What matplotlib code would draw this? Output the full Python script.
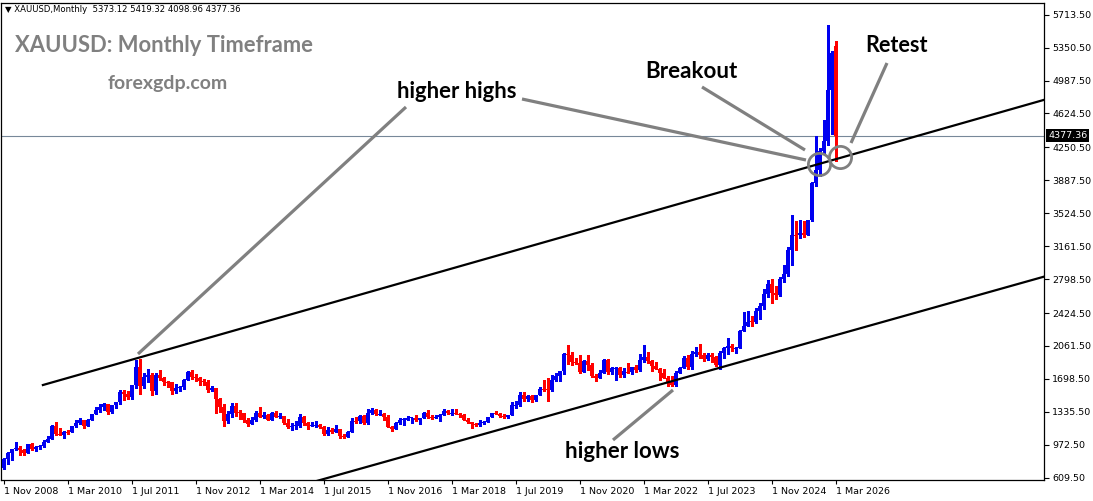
import matplotlib
matplotlib.use("Agg")
import matplotlib.pyplot as plt
import matplotlib.transforms as mtrans
import numpy as np

W, H, DPI = 1093, 501, 100

# ---------------- data (monthly XAUUSD, Nov 2008 .. Mar 2026) ----------------
open_ = [
    718, 814,
    882, 927, 942, 916, 883, 979, 927, 953, 955, 1001, 1040, 1182,
    1096, 1081, 1118, 1113, 1180, 1213, 1244, 1181, 1247, 1307, 1357, 1386,
    1421, 1333, 1409, 1439, 1556, 1536, 1500, 1628, 1826, 1620, 1714, 1746,
    1564, 1738, 1711, 1668, 1664, 1560, 1598, 1614, 1690, 1772, 1719, 1712,
    1675, 1663, 1579, 1597, 1476, 1393, 1234, 1313, 1396, 1327, 1323, 1250,
    1202, 1240, 1326, 1284, 1296, 1250, 1327, 1282, 1287, 1210, 1171, 1183,
    1184, 1283, 1213, 1183, 1183, 1190, 1172, 1095, 1133, 1115, 1142, 1065,
    1061, 1118, 1238, 1233, 1293, 1215, 1322, 1351, 1309, 1316, 1276, 1173,
    1151, 1211, 1249, 1249, 1268, 1268, 1242, 1269, 1322, 1280, 1270, 1275,
    1303, 1345, 1318, 1325, 1315, 1298, 1250, 1224, 1200, 1192, 1215, 1222,
    1282, 1321, 1313, 1292, 1284, 1305, 1409, 1413, 1520, 1472, 1513, 1464,
    1517, 1589, 1585, 1577, 1686, 1730, 1781, 1975, 1967, 1886, 1879, 1776,
    1898, 1848, 1734, 1708, 1769, 1906, 1770, 1814, 1814, 1743, 1783, 1774,
    1829, 1796, 1909, 1937, 1897, 1837, 1807, 1766, 1711, 1660, 1633, 1768,
    1824, 1928, 1826, 1969, 1990, 1963, 1919, 1965, 1940, 1849, 1983, 2036,
    2063, 2039, 2044, 2230, 2286, 2327, 2326, 2447, 2503, 2634, 2744, 2650,
    2624, 2798, 2857, 3124, 3289, 3280, 3303, 3290, 3448, 3858, 4000, 4215,
    4320, 4887, 5373.12,
]
high = [
    825, 889,
    929, 1006, 964, 922, 981, 989, 961, 966, 1023, 1070, 1195, 1227,
    1162, 1127, 1140, 1180, 1249, 1266, 1245, 1251, 1308, 1388, 1424, 1431,
    1424, 1413, 1447, 1576, 1577, 1561, 1632, 1912, 1921, 1764, 1804, 1764,
    1764, 1792, 1720, 1677, 1669, 1641, 1625, 1693, 1790, 1796, 1755, 1724,
    1695, 1684, 1616, 1603, 1487, 1417, 1348, 1433, 1434, 1361, 1324, 1267,
    1280, 1345, 1392, 1331, 1315, 1332, 1345, 1323, 1292, 1255, 1208, 1238,
    1307, 1289, 1219, 1224, 1232, 1205, 1175, 1170, 1157, 1191, 1142, 1088,
    1124, 1263, 1283, 1296, 1304, 1362, 1375, 1367, 1352, 1326, 1306, 1180,
    1220, 1264, 1264, 1295, 1273, 1296, 1273, 1331, 1357, 1306, 1299, 1309,
    1366, 1361, 1365, 1365, 1326, 1309, 1265, 1226, 1214, 1243, 1237, 1284,
    1326, 1347, 1324, 1310, 1306, 1439, 1453, 1555, 1557, 1518, 1516, 1524,
    1611, 1689, 1704, 1747, 1765, 1786, 1984, 2075, 1992, 1933, 1965, 1906,
    1959, 1875, 1755, 1798, 1913, 1917, 1833, 1832, 1834, 1814, 1877, 1831,
    1853, 1974, 2070, 1998, 1909, 1880, 1814, 1808, 1735, 1730, 1786, 1833,
    1949, 1959, 2009, 2049, 2079, 1983, 1987, 1980, 1953, 2009, 2052, 2146,
    2088, 2054, 2236, 2431, 2450, 2388, 2483, 2531, 2685, 2790, 2801, 2726,
    2817, 2956, 3148, 3500, 3435, 3452, 3439, 3453, 3871, 4381, 4245, 4550,
    5598, 5310, 5419.32,
]
low = [
    705, 761,
    802, 915, 865, 865, 880, 916, 906, 930, 951, 1001, 1033, 1075,
    1075, 1044, 1088, 1113, 1165, 1197, 1155, 1176, 1242, 1307, 1330, 1356,
    1308, 1323, 1381, 1418, 1462, 1478, 1480, 1600, 1532, 1603, 1665, 1523,
    1537, 1688, 1627, 1611, 1527, 1546, 1563, 1583, 1688, 1694, 1672, 1636,
    1626, 1555, 1562, 1321, 1338, 1180, 1207, 1281, 1291, 1251, 1227, 1181,
    1202, 1238, 1277, 1268, 1240, 1240, 1280, 1273, 1206, 1161, 1131, 1142,
    1167, 1190, 1142, 1175, 1170, 1162, 1077, 1080, 1098, 1108, 1052, 1046,
    1061, 1110, 1208, 1208, 1200, 1200, 1311, 1301, 1302, 1241, 1171, 1122,
    1146, 1206, 1195, 1241, 1214, 1236, 1205, 1266, 1271, 1261, 1264, 1236,
    1302, 1307, 1303, 1310, 1282, 1245, 1211, 1160, 1180, 1182, 1196, 1221,
    1276, 1311, 1281, 1266, 1266, 1302, 1382, 1400, 1459, 1459, 1445, 1454,
    1517, 1563, 1451, 1567, 1670, 1671, 1757, 1863, 1848, 1860, 1764, 1775,
    1802, 1717, 1677, 1705, 1766, 1750, 1751, 1688, 1721, 1722, 1759, 1753,
    1780, 1782, 1890, 1872, 1787, 1805, 1681, 1709, 1615, 1617, 1616, 1765,
    1823, 1804, 1810, 1949, 1932, 1893, 1903, 1884, 1846, 1810, 1931, 1973,
    2002, 1984, 2039, 2228, 2277, 2286, 2318, 2364, 2471, 2603, 2536, 2583,
    2614, 2772, 2833, 2957, 3121, 3247, 3268, 3281, 3436, 3820, 3930, 4180,
    4274, 4400, 4098.96,
]
close = [
    814, 882,
    927, 942, 916, 883, 979, 927, 953, 955, 1001, 1040, 1182, 1096,
    1081, 1118, 1113, 1180, 1213, 1244, 1181, 1247, 1307, 1357, 1386, 1421,
    1333, 1409, 1439, 1556, 1536, 1500, 1628, 1826, 1620, 1714, 1746, 1564,
    1738, 1711, 1668, 1664, 1560, 1598, 1614, 1690, 1772, 1719, 1712, 1675,
    1663, 1579, 1597, 1476, 1393, 1234, 1313, 1396, 1327, 1323, 1250, 1202,
    1240, 1326, 1284, 1296, 1250, 1327, 1282, 1287, 1210, 1171, 1183, 1184,
    1283, 1213, 1183, 1183, 1190, 1172, 1095, 1133, 1115, 1142, 1065, 1061,
    1118, 1238, 1233, 1293, 1215, 1322, 1351, 1309, 1316, 1276, 1173, 1151,
    1211, 1249, 1249, 1268, 1268, 1242, 1269, 1322, 1280, 1270, 1275, 1303,
    1345, 1318, 1325, 1315, 1298, 1250, 1224, 1200, 1192, 1215, 1222, 1282,
    1321, 1313, 1292, 1284, 1305, 1409, 1413, 1520, 1472, 1513, 1464, 1517,
    1589, 1585, 1577, 1686, 1730, 1781, 1975, 1967, 1886, 1879, 1776, 1898,
    1848, 1734, 1708, 1769, 1906, 1770, 1814, 1814, 1743, 1783, 1774, 1829,
    1796, 1909, 1937, 1897, 1837, 1807, 1766, 1711, 1660, 1633, 1768, 1824,
    1928, 1826, 1969, 1990, 1963, 1919, 1965, 1940, 1849, 1983, 2036, 2063,
    2039, 2044, 2230, 2286, 2327, 2326, 2447, 2503, 2634, 2744, 2650, 2624,
    2798, 2857, 3124, 3289, 3280, 3303, 3290, 3448, 3858, 4000, 4215, 4320,
    4887, 5290, 4377.36,
]

x_labels = ["1 Nov 2008", "1 Mar 2010", "1 Jul 2011", "1 Nov 2012", "1 Mar 2014",
            "1 Jul 2015", "1 Nov 2016", "1 Mar 2018", "1 Jul 2019", "1 Nov 2020",
            "1 Mar 2022", "1 Jul 2023", "1 Nov 2024", "1 Mar 2026"]
y_ticks = [609.5, 972.5, 1335.5, 1698.5, 2061.5, 2424.5, 2798.5, 3161.5,
           3524.5, 3887.5, 4250.5, 4624.5, 4987.5, 5350.5, 5713.5]
last_price = 4377.36
header = "\u25BC XAUUSD,Monthly  5373.12 5419.32 4098.96 4377.36"

# channel trend lines (bar index, price)
upper_x = [9.8, 260.1]
upper_y = [1631, 4775]
lower_x = [70, 260.1]
lower_y = [471, 2826]

# ---------------- figure ----------------
fig = plt.figure(figsize=(W / DPI, H / DPI), dpi=DPI)
L, R, T, B = 1, 1044, 2.7, 480
ax = fig.add_axes([L / W, 1 - B / H, (R - L) / W, (B - T) / H])
ax.set_xlim(-0.675, 260.075)
ax.set_ylim(584.0, 5845.8)
for s in ax.spines.values():
    s.set_linewidth(0.9)
    s.set_color("black")

o = np.array(open_, float)
h = np.array(high, float)
l = np.array(low, float)
c = np.array(close, float)
idx = np.arange(len(c))
up = c >= o
cols = np.where(up, "#0000F0", "#FF0000")

ax.vlines(idx, l, h, colors=cols, linewidth=0.85, zorder=3, antialiased=False)
small = np.abs(c - o) < 11
ax.bar(idx, np.maximum(np.abs(c - o), 11),
       bottom=np.minimum(o, c) - np.where(small, 5.5, 0),
       width=0.76, color=cols, linewidth=0, zorder=3, antialiased=False)

# current price line
ax.axhline(last_price, color="#778899", linewidth=0.8, zorder=2)

# channel lines
ax.plot(upper_x, upper_y, color="black", linewidth=1.6, zorder=4)
ax.plot(lower_x, lower_y, color="black", linewidth=1.6, zorder=4)

# axes ticks
ax.yaxis.tick_right()
ax.set_yticks(y_ticks)
ax.set_yticklabels([f"{v:.2f}" for v in y_ticks], fontsize=6.8, family="DejaVu Sans")
ax.tick_params(axis="y", length=3.5, width=0.8, pad=2.5, direction="out")
ax.set_xticks(np.arange(0, len(c), 16))
ax.set_xticklabels(x_labels, fontsize=6.8, family="DejaVu Sans", ha="left")
ax.tick_params(axis="x", length=3, width=0.8, pad=2, direction="out")

tr = mtrans.blended_transform_factory(ax.transAxes, ax.transData)
ax.text(1.004, last_price, "4377.36", transform=tr, ha="left", va="center",
        color="white", fontsize=6.8, family="DejaVu Sans",
        bbox=dict(facecolor="black", edgecolor="none", pad=1.5))

# ---------------- annotations ----------------
def px2data(x, y):
    return ax.transData.inverted().transform((x, H - y))

def gline(p0, p1, lw=2.3):
    a = px2data(*p0)
    b = px2data(*p1)
    ax.plot([a[0], b[0]], [a[1], b[1]], color="#808080", linewidth=lw,
            solid_capstyle="butt", zorder=5, clip_on=False)

gline((138, 354), (406, 107))
gline((522, 99), (806, 160))
gline((702, 87), (805, 150))
gline((887, 63), (851, 143))
gline((613, 440), (673, 390))

for cx, cy in [(819.3, 164.3), (840, 157.3)]:
    d = px2data(cx, cy)
    ax.plot([d[0]], [d[1]], "o", ms=16, mfc="none", mec="#808080", mew=2.0, zorder=6)

renderer = fig.canvas.get_renderer()

def fit_text(x, y, s, width_px, **kw):
    t = fig.text(x / W, 1 - y / H, s, **kw)
    w = t.get_window_extent(renderer).width
    t.set_fontsize(t.get_fontsize() * width_px / w)
    return t

fit_text(5, 10, header, 235, fontsize=7, family="DejaVu Sans", color="black",
         ha="left", va="center")
fit_text(15, 46, "XAUUSD: Monthly Timeframe", 298, fontsize=16, family="Lato",
         weight="bold", color="#808080", ha="left", va="center")
fit_text(108, 84, "forexgdp.com", 120, fontsize=13, family="Lato",
         weight="bold", color="#808080", ha="left", va="center")
fit_text(397, 92, "higher highs", 121, fontsize=14, family="Lato",
         weight="bold", color="black", ha="left", va="center")
fit_text(645, 71, "Breakout", 93, fontsize=14, family="Lato",
         weight="bold", color="black", ha="left", va="center")
fit_text(865, 45, "Retest", 63, fontsize=14, family="Lato",
         weight="bold", color="black", ha="left", va="center")
fit_text(565, 452, "higher lows", 115, fontsize=14, family="Lato",
         weight="bold", color="black", ha="left", va="center")

fig.savefig("out.png", dpi=DPI, facecolor="white")
